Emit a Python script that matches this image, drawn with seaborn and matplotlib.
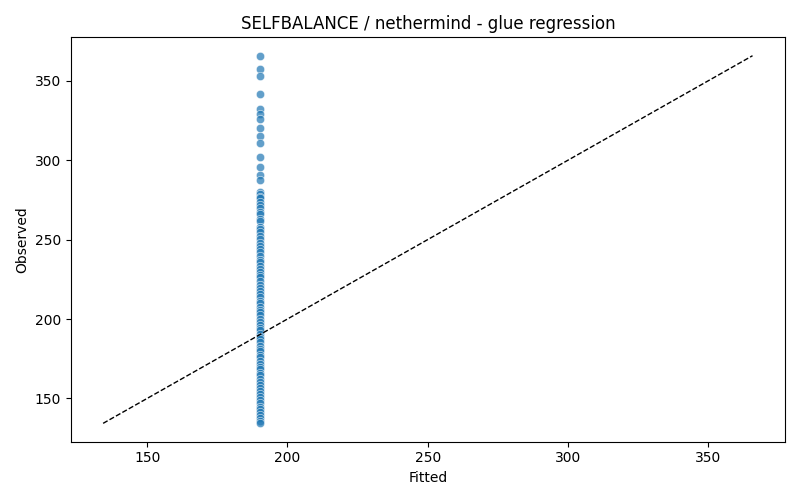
import numpy as np
import pandas as pd
import seaborn as sns
import matplotlib
matplotlib.use("Agg")
import matplotlib.pyplot as plt

fitted_value = 190.1
observed = [
    365.8, 357.4, 353.2, 341.8, 332.3, 329.2, 325.8, 320.1, 315.3, 311.0,
    302.2, 295.9, 290.6, 287.4,
    280.0, 278.6, 277.1, 275.9, 273.8, 271.5, 270.2, 267.4, 265.9, 263.1,
    261.8, 258.2, 256.4, 254.9, 252.3, 250.1, 247.6, 245.8, 243.9, 242.1,
    239.5, 237.2, 235.6, 233.1, 231.7, 229.4, 228.0, 226.2, 223.8, 221.5,
    219.7, 217.9, 215.6, 214.1, 211.4, 209.8, 207.3, 205.9, 204.2, 202.6,
    200.1, 198.3, 196.5, 194.2, 192.8, 190.6, 188.7, 187.1, 185.5, 183.2,
    181.4, 179.8, 177.6, 175.9, 173.4, 171.8, 169.9, 168.3, 166.1, 164.5,
    162.2, 160.4, 158.7, 156.3, 154.8, 152.6, 150.9, 148.7, 146.8, 144.9,
    143.1, 141.5, 139.4, 137.6, 135.9, 134.3,
]
fitted = [fitted_value] * len(observed)

df = pd.DataFrame({"Fitted": fitted, "Observed": observed})

fig, ax = plt.subplots(figsize=(8, 5), dpi=100)
sns.scatterplot(data=df, x="Fitted", y="Observed", alpha=0.7, ax=ax)

lo = min(df["Fitted"].min(), df["Observed"].min())
hi = max(df["Fitted"].max(), df["Observed"].max())
ax.plot([lo, hi], [lo, hi], "k--", lw=1)

ax.set_title("SELFBALANCE / nethermind - glue regression")
ax.set_xlabel("Fitted")
ax.set_ylabel("Observed")
plt.tight_layout()
plt.savefig("out.png")
